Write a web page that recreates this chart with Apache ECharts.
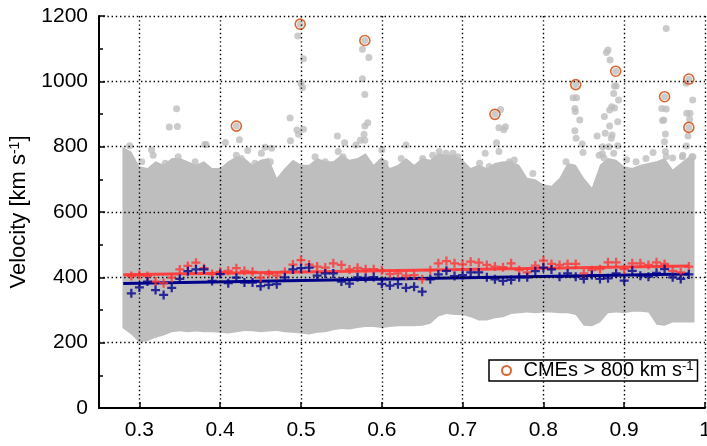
<!DOCTYPE html>
<html><head><meta charset="utf-8">
<script src="https://cdn.jsdelivr.net/npm/echarts@6/dist/echarts.min.js"></script>
<style>html,body{margin:0;padding:0;background:#fff}#c{width:707px;height:446px}</style>
</head><body><div id="c"></div>
<script>
const xTicks = [0.3,0.4,0.5,0.6,0.7,0.8,0.9,1.0];
const yGrid = [200,400,600,800,1000,1200];

const binX = [0.29,0.30,0.31,0.32,0.33,0.34,0.35,0.36,0.37,0.38,0.39,0.40,0.41,0.42,0.43,0.44,0.45,0.46,0.47,0.48,0.49,
  0.50,0.51,0.52,0.53,0.54,0.55,0.56,0.57,0.58,0.59,0.60,0.61,0.62,0.63,0.64,0.65,0.66,0.67,0.68,0.69,
  0.70,0.71,0.72,0.73,0.74,0.75,0.76,0.77,0.78,0.79,0.80,0.81,0.82,0.83,0.84,0.85,0.86,0.87,0.88,0.89,
  0.90,0.91,0.92,0.93,0.94,0.95,0.96,0.97,0.98];
const redMeans = [404,407,404,387,382,399,424,435,445,428,410,417,420,428,420,417,399,410,405,417,439,
  453,439,433,430,443,438,424,429,425,425,421,410,412,405,407,394,422,443,450,443,
  440,448,445,438,433,431,443,422,415,436,451,441,438,441,441,412,422,425,446,446,
  425,443,443,438,446,441,420,415,433];
const blueMeans = [351,369,387,361,346,368,395,419,424,424,389,410,382,399,384,384,373,377,379,400,424,
  428,430,405,412,412,387,381,400,398,401,380,375,379,368,371,356,394,409,420,404,
  407,415,415,400,394,389,392,400,400,419,430,424,402,412,402,395,407,395,397,412,
  390,420,405,402,414,425,400,395,409];
const redFit = [[0.28,408],[0.98,435]];
const blueFit = [[0.28,381],[0.98,410]];

const cloudX = [0.279,0.29,0.30,0.31,0.32,0.33,0.34,0.35,0.36,0.37,0.38,0.39,0.40,0.41,0.42,0.43,0.44,0.45,0.46,0.47,0.48,0.49,
  0.50,0.51,0.52,0.53,0.54,0.55,0.56,0.57,0.58,0.59,0.60,0.61,0.62,0.63,0.64,0.65,0.66,0.67,0.68,0.69,
  0.70,0.71,0.72,0.73,0.74,0.75,0.76,0.77,0.78,0.79,0.80,0.81,0.82,0.83,0.84,0.85,0.86,0.87,0.88,0.89,
  0.90,0.91,0.92,0.93,0.94,0.95,0.96,0.97,0.98,0.987];
const cloudLow = [245,225,200,205,215,222,232,235,232,234,232,232,230,228,232,236,235,232,234,236,232,230,
  228,225,230,232,238,242,240,245,248,248,245,248,250,250,250,252,258,280,288,285,
  285,278,268,268,275,278,288,290,292,290,292,292,290,290,285,252,250,262,290,292,
  290,295,295,292,255,252,262,262,262,262];
const cloudHigh = [800,785,740,735,755,745,765,765,755,745,755,735,735,755,770,765,745,760,765,705,735,760,
  745,745,765,755,755,775,760,765,780,745,770,735,745,765,745,765,760,780,775,775,
  760,735,745,735,750,755,755,745,705,700,685,680,705,750,745,705,675,745,765,760,
  740,735,745,750,755,765,730,750,770,765];

const outlierPts = [[0.496,1139],[0.503,1069],[0.500,994],[0.502,981],[0.4865,888],[0.495,851],[0.497,838],[0.503,853],[0.487,818],
  [0.576,1098],[0.584,1073],[0.576,1008],[0.579,960],[0.5826,873],[0.579,863],[0.578,838],[0.5735,820],[0.579,820],[0.568,805],
  [0.4238,821],[0.4064,813],[0.346,916],[0.337,860],[0.347,862],[0.545,833],[0.554,812],[0.3825,807],[0.288,803],
  [0.747,914],[0.745,858],[0.753,861],[0.751,852],[0.742,812],[0.728,780],[0.745,785],
  [0.8368,950],[0.841,950],[0.839,917],[0.8395,908],[0.845,882],[0.839,849],[0.8405,826],[0.848,808],[0.849,782],
  [0.880,1096],[0.878,1088],[0.8825,1065],[0.888,986],[0.890,986],[0.887,963],[0.893,943],[0.8845,922],[0.888,918],[0.882,912],
  [0.8755,892],[0.892,876],[0.882,863],[0.8765,841],[0.885,836],[0.8665,833],[0.884,826],[0.8735,800],[0.892,803],[0.881,800],[0.873,778],[0.887,780],
  [0.952,1162],[0.9465,917],[0.952,915],[0.949,882],[0.9475,880],[0.951,839],[0.9498,815],[0.951,785],[0.952,770],[0.9357,782],
  [0.9766,994],[0.9848,943],[0.9774,902],[0.9815,902],[0.981,884],[0.979,833],[0.977,802],[0.972,769],[0.984,769],[0.630,805],
  [0.315,790],[0.317,774],[0.303,754],[0.332,749],[0.348,769],[0.346,754],[0.369,754],[0.361,739],[0.381,807],[0.434,788],
  [0.420,774],[0.426,764],[0.4555,798],[0.4637,795],[0.451,780],[0.462,754],[0.443,749],[0.5174,769],[0.53,754],[0.546,785],
  [0.552,769],[0.604,749],[0.600,790],[0.62,729],[0.624,764],[0.6506,764],[0.663,774],[0.671,785],[0.6796,780],[0.688,780],
  [0.694,769],[0.721,749],[0.733,739],[0.758,754],[0.764,759],[0.787,718],[0.828,754],[0.869,774],[0.875,765],[0.903,760],
  [0.9147,754],[0.927,764],[0.960,765],[0.9725,774],[0.985,769]];
const cmePts = [[0.42,863],[0.499,1175],[0.579,1125],[0.74,899],[0.84,990],[0.8895,1031],[0.95,953],[0.98,1007],[0.98,859]];

const FONT = "'Liberation Sans', Arial, sans-serif";
const GREY = '#bebebe';
const plusPath = 'path://M3,0h2v3h3v2h-3v3h-2v-3h-3v-2h3z';
const LEG_FS = 20, LEG_SUP_FS = 13;

// legend box geometry: measure text so the box ends at the plot's right edge
const mctx = document.createElement('canvas').getContext('2d');
mctx.font = LEG_FS + "px 'Liberation Sans'";
const wMain = mctx.measureText('CMEs > 800 km s').width;
mctx.font = LEG_SUP_FS + "px 'Liberation Sans'";
const wSup = mctx.measureText('-1').width;
const LEG_LEFT = 489, LEG_PADL = 12, LEG_ICONW = 24;
const legPadR = Math.max(2, 704 - (LEG_LEFT + LEG_PADL + LEG_ICONW + 5 + wMain + wSup));

const chart = echarts.init(document.getElementById('c'), null, {renderer:'canvas'});
const gridLineData = xTicks.map(v => ({xAxis: v})).concat(yGrid.map(v => ({yAxis: v})));

chart.setOption({
  animation: false,
  textStyle: {fontFamily: FONT},
  grid: {left: 99, right: 2, top: 16, bottom: 38, containLabel: false, outerBoundsMode: 'none'},
  legend: {
    left: LEG_LEFT, top: 360, orient: 'horizontal',
    padding: [0, legPadR, 0, LEG_PADL],
    itemWidth: LEG_ICONW, itemHeight: 9,
    backgroundColor: '#fff', borderColor: '#000', borderWidth: 1.5, borderRadius: 0,
    data: ['CMEs'],
    formatter: () => 'CMEs > 800 km s{sup|-1}',
    textStyle: {fontSize: LEG_FS, color: '#000', fontFamily: FONT, lineHeight: 21,
      rich: {sup: {fontSize: LEG_SUP_FS, lineHeight: 13, verticalAlign: 'top', color: '#000', fontFamily: FONT}}}
  },
  xAxis: {
    type: 'value', min: 0.25, max: 1.0,
    axisLine: {show: true, onZero: false, lineStyle: {color: '#000', width: 2}},
    axisTick: {show: true, inside: true, length: 6, customValues: xTicks, lineStyle: {color: '#000', width: 1.5}},
    axisLabel: {show: true, customValues: xTicks, fontSize: 21, color: '#000', margin: 12, fontFamily: FONT,
      hideOverlap: false, formatter: v => String(+v.toFixed(2))},
    splitLine: {show: false}
  },
  yAxis: {
    type: 'value', min: 0, max: 1200, interval: 200,
    name: 'Velocity [km s{sup|-1}]', nameLocation: 'middle', nameGap: 49, nameRotate: 90,
    nameTextStyle: {fontSize: 22, color: '#000', fontFamily: FONT,
      rich: {sup: {fontSize: 14, verticalAlign: 'top', lineHeight: 14, color: '#000', fontFamily: FONT}}},
    axisLine: {show: true, onZero: false, lineStyle: {color: '#000', width: 2}},
    axisTick: {show: true, inside: true, length: 6, lineStyle: {color: '#000', width: 1.5}},
    minorTick: {show: true, splitNumber: 2, length: 4, lineStyle: {color: '#000', width: 1.5}},
    axisLabel: {fontSize: 21, color: '#000', margin: 11, fontFamily: FONT, formatter: v => String(v)},
    splitLine: {show: false}
  },
  series: [
    {
      type: 'custom', name: 'cloud', z: 1, silent: true, clip: true,
      data: cloudX.map((x, i) => [x, cloudLow[i], cloudHigh[i]]),
      encode: {x: 0, y: [1, 2]},
      renderItem: function (params, api) {
        if (params.dataIndex !== 0) return null;
        const pts = [];
        for (let i = 0; i < cloudX.length; i++) pts.push(api.coord([cloudX[i], cloudHigh[i]]));
        for (let i = cloudX.length - 1; i >= 0; i--) pts.push(api.coord([cloudX[i], cloudLow[i]]));
        return {type: 'polygon', shape: {points: pts}, style: {fill: GREY}};
      }
    },
    {
      type: 'scatter', name: 'grey', z: 1, silent: true,
      symbol: 'circle', symbolSize: 7,
      itemStyle: {color: GREY},
      data: outlierPts.concat(cmePts)
    },
    {
      type: 'line', name: 'gridlines', z: 3, data: [], silent: true,
      markLine: {
        silent: true, symbol: ['none', 'none'], label: {show: false},
        lineStyle: {color: '#000', width: 1.4, type: [1.4, 2.8], opacity: 1},
        emphasis: {disabled: true},
        animation: false,
        data: gridLineData
      }
    },
    {
      type: 'line', name: 'redfit', z: 4, data: redFit, symbol: 'none',
      lineStyle: {color: '#ff4040', width: 3}
    },
    {
      type: 'line', name: 'bluefit', z: 4, data: blueFit, symbol: 'none',
      lineStyle: {color: '#00008b', width: 3}
    },
    {
      type: 'scatter', name: 'red', z: 5, symbol: plusPath, symbolSize: 9,
      itemStyle: {color: '#ff3535'},
      data: binX.map((x, i) => [x, redMeans[i]])
    },
    {
      type: 'scatter', name: 'blue', z: 5, symbol: plusPath, symbolSize: 9,
      itemStyle: {color: '#00008b'},
      data: binX.map((x, i) => [x, blueMeans[i]])
    },
    {
      type: 'scatter', name: 'CMEs', z: 6, symbol: 'circle', symbolSize: 10,
      itemStyle: {color: 'rgba(255,255,255,0)', borderColor: '#cc4400', borderWidth: 1.6},
      data: cmePts
    }
  ]
});
</script></body></html>
